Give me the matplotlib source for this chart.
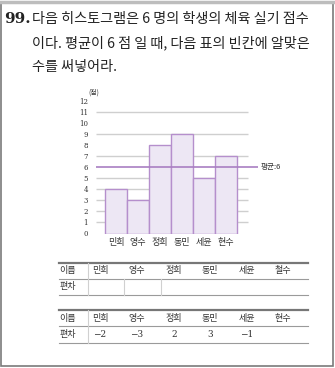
import numpy as np
import matplotlib
matplotlib.use('Agg')
import matplotlib.pyplot as plt
from matplotlib.lines import Line2D
from matplotlib.patches import Rectangle

plt.rcParams['font.family'] = ['Noto Sans CJK KR', 'DejaVu Sans']

# data
names = ['민희', '영수', '정희', '동민', '세윤', '현수']
names_top = ['민희', '영수', '정희', '동민', '세윤', '철수']
scores = [4, 3, 8, 9, 5, 7]
y_ticks = list(range(0, 13))
grid_levels = [1, 2, 3, 4, 5, 7, 9, 11]
known = [True, True, True, True, True, False]

mean = np.mean(scores)
devs = [s - mean for s in scores]

W, H = 335, 368
fig = plt.figure(figsize=(W / 100, H / 100), dpi=100)


def fx(px):
    return px / W


def fy(py):
    return 1 - py / H


# outer frame
fig.add_artist(Rectangle((fx(1), fy(366)), fx(332), 1 - fy(366) - (1 - fy(2)) + 0,
                         transform=fig.transFigure, fill=False,
                         edgecolor='#7a7a7a', linewidth=1.2))
fig.add_artist(Line2D([fx(1), fx(333)], [fy(2), fy(2)], transform=fig.transFigure,
                      color='#bdbdbd', linewidth=2.5))

# question text
fig.text(fx(4), fy(19), '99.', fontsize=11, fontweight='bold',
         family=['DejaVu Serif'], va='center', ha='left', color='#222222')
lines = ['다음 히스토그램은 6 명의 학생의 체육 실기 점수',
         '이다. 평균이 6 점 일 때, 다음 표의 빈칸에 알맞은',
         '수를 써넣어라.']
for i, t in enumerate(lines):
    fig.text(fx(32), fy(19 + 24 * i), t, fontsize=10.2, va='center', ha='left',
             color='#222222')

# histogram
ax = fig.add_axes([fx(95.1), fy(233.5), fx(174.9), 138.4 / H])
x = np.arange(len(scores))
ax.set_xlim(-0.95, 7.0)
ax.set_ylim(0, 12.5)
ax.hlines(grid_levels, -0.909, 6.0, color='#cfcfcf', linewidth=1, zorder=0)
ax.bar(x, scores, width=1.0, color='#ede7f4', edgecolor='#b58fcc',
       linewidth=1.0, zorder=2)
ax.hlines(mean, -0.909, 6.45, color='#a97fc2', linewidth=1.2, zorder=3)
ax.text(6.55, mean, '평균:6', fontsize=5.5, va='center', ha='left', color='#333333')
for s in ax.spines.values():
    s.set_visible(False)
ax.set_yticks(y_ticks)
ax.set_yticklabels([str(v) for v in y_ticks], fontsize=5, color='#333333',
                   family=['DejaVu Serif'])
ax.set_xticks(x)
ax.set_xticklabels(names, fontsize=6.5, color='#333333')
ax.tick_params(axis='both', length=0)
ax.tick_params(axis='y', pad=5)
ax.tick_params(axis='x', pad=3)
ax.text(-1.02, 12.75, '(점)', fontsize=5, ha='center', va='center', color='#333333')

# tables
col_x = [68, 100, 137, 174, 210, 247, 283]
v_lines = [88, 124, 161, 198, 235, 272]
x0, x1 = 59, 308


def hline(py, color, lw):
    fig.add_artist(Line2D([fx(x0), fx(x1)], [fy(py), fy(py)], transform=fig.transFigure,
                          color=color, linewidth=lw))


def vline(px, ya, yb):
    fig.add_artist(Line2D([fx(px), fx(px)], [fy(ya), fy(yb)], transform=fig.transFigure,
                          color='#d0d0d0', linewidth=0.8))


def table(top, sep, bottom, row2, all_v):
    hline(top, '#777777', 1.6)
    hline(sep, '#9a9a9a', 0.8)
    hline(bottom, '#9a9a9a', 0.8)
    vline(v_lines[0], top, bottom)
    if all_v:
        for v in v_lines[1:3]:
            vline(v, sep, bottom)
    fig.text(fx(col_x[0]), fy((top + sep) / 2), '이름', fontsize=6.5,
             ha='center', va='center', color='#333333')
    fig.text(fx(col_x[0]), fy((sep + bottom) / 2), '편차', fontsize=6.5,
             ha='center', va='center', color='#333333')
    return top, sep, bottom


t, s, b = table(263, 279, 295, None, True)
for cx, n in zip(col_x[1:], names_top):
    fig.text(fx(cx), fy((t + s) / 2), n, fontsize=6.5, ha='center', va='center',
             color='#333333')

t, s, b = table(310, 326, 343, None, False)
for cx, n, d, k in zip(col_x[1:], names, devs, known):
    fig.text(fx(cx), fy((t + s) / 2), n, fontsize=6.5, ha='center', va='center',
             color='#333333')
    if k:
        lab = '−%d' % abs(d) if d < 0 else '%d' % d
        fig.text(fx(cx), fy((s + b) / 2), lab, fontsize=6.5, ha='center',
                 va='center', color='#333333', family=['DejaVu Serif'])

fig.savefig('out.png', dpi=100)
